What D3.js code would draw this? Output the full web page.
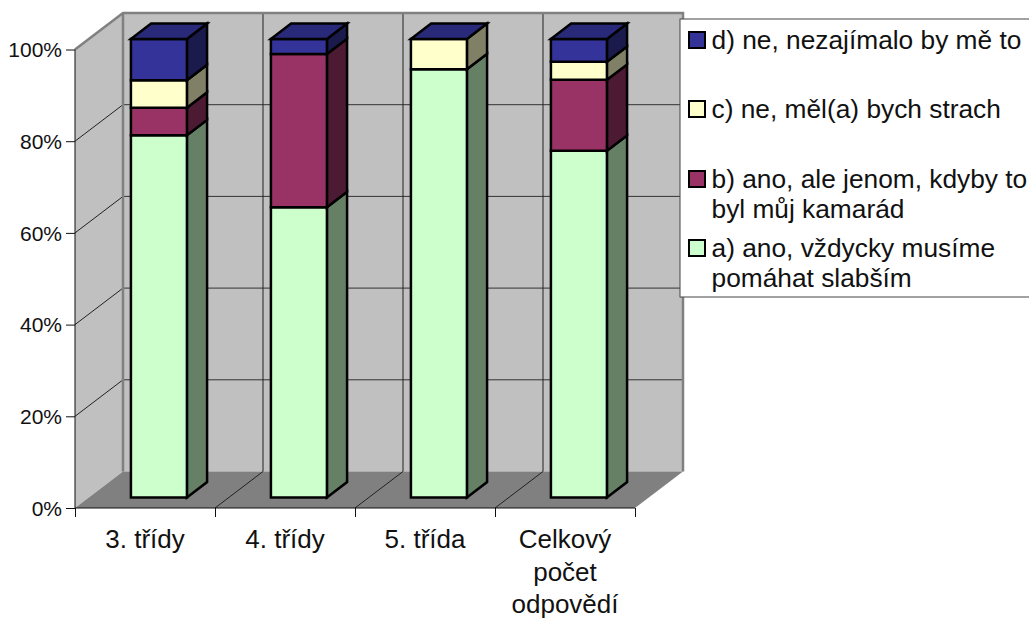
<!DOCTYPE html>
<html><head><meta charset="utf-8">
<script src="https://cdn.jsdelivr.net/npm/d3@7"></script>
<style>html,body{margin:0;padding:0;background:#fff}svg{display:block}text{font-family:"Liberation Sans",Arial,sans-serif;fill:#111}</style>
</head><body><svg id="c" width="1029" height="619"></svg>
<script>
const categories=["3. třídy","4. třídy","5. třída","Celkový|počet|odpovědí"];
const seriesKeys=["a","b","c","d"];
const a=[79,63.3,93.4,75.6];
const b=[6,33.4,0,15.5];
const c=[6,0,6.6,3.9];
const d=[9,3.3,0,5];
const yTicks=[0,20,40,60,80,100];
const frontColors=["#ccffcc","#993366","#ffffcc","#333399"];
const sideColors=["#668066","#4d1a33","#808066","#1a1a4d"];
const topColor="#29297a";
const legendItems=[
 {k:3,lines:["d) ne, nezajímalo by mě to"]},
 {k:2,lines:["c) ne, měl(a) bych strach"]},
 {k:1,lines:["b) ano, ale jenom, kdyby to","byl můj kamarád"]},
 {k:0,lines:["a) ano, vždycky musíme","pomáhat slabším"]}];

const svg=d3.select("#c");
const x=d3.scaleBand().domain(d3.range(categories.length)).range([75,635]).paddingInner(0).paddingOuter(0);
const y=d3.scaleLinear().domain([0,100]).range([508,49.5]);
const DX=48,DY=-36.5;
const poly=(pts,fill,stroke,sw)=>svg.append("polygon").attr("points",pts.map(p=>p.join(",")).join(" ")).attr("fill",fill).attr("stroke",stroke||"none").attr("stroke-width",sw||0).attr("stroke-linejoin","miter");
const line=(x1,y1,x2,y2,s,w)=>svg.append("line").attr("x1",x1).attr("y1",y1).attr("x2",x2).attr("y2",y2).attr("stroke",s).attr("stroke-width",w);

// walls
const xL=x.range()[0],xR=x.range()[1],y0=y(0),y1=y(100);
poly([[xL,y0],[xL+DX,y0+DY],[xL+DX,y1+DY],[xL,y1]],"#c0c0c0");
poly([[xL+DX,y0+DY],[xR+DX,y0+DY],[xR+DX,y1+DY],[xL+DX,y1+DY]],"#c0c0c0");
poly([[xL,y0],[xR,y0],[xR+DX,y0+DY],[xL+DX,y0+DY]],"#808080");
// gridlines
yTicks.slice(1,-1).forEach(t=>{
  line(xL,y(t),xL+DX,y(t)+DY,"#222",1);
  line(xL+DX,y(t)+DY,xR+DX,y(t)+DY,"#333",1);
});
d3.range(1,categories.length).forEach(i=>{
  const px=x(i);
  line(px,y0,px+DX,y0+DY,"#222",1);
  line(px+DX,y0+DY,px+DX,y1+DY,"#222",1);
});
// wall outline
svg.append("polyline").attr("points",[[xL,y1],[xL+DX,y1+DY],[xR+DX,y1+DY],[xR+DX,y0+DY]].map(p=>p.join(",")).join(" ")).attr("fill","none").attr("stroke","#808080").attr("stroke-width",2.5);
line(xL+DX,y1+DY,xL+DX,y0+DY,"#808080",2.5);
// axes
const yAxis=d3.axisLeft(y).tickValues(yTicks).tickFormat(t=>t+"%").tickSize(9).tickPadding(4);
const gy=svg.append("g").attr("transform",`translate(${xL},0)`).call(yAxis);
gy.selectAll("text").style("font-size","21px").attr("dy","0.35em");
gy.selectAll("line").attr("stroke","#111").attr("stroke-width",1);
gy.select("path").attr("d",`M0,${y0}V${y1}`).attr("stroke","#111").attr("stroke-width",1);
const xAxis=d3.axisBottom(d3.scaleLinear().domain([0,4]).range([xL,xR])).tickValues([0,1,2,3,4]).tickFormat("").tickSize(9);
const gx=svg.append("g").attr("transform",`translate(0,${y0})`).call(xAxis);
gx.selectAll("line").attr("stroke","#111").attr("stroke-width",1);
gx.select("path").attr("d",`M${xL},0H${xR}`).attr("stroke","#111").attr("stroke-width",1);
categories.forEach((cat,i)=>{
  const t=svg.append("text").attr("text-anchor","middle").style("font-size","26px");
  cat.split("|").forEach((ln,j)=>t.append("tspan").attr("x",x(i)+x.bandwidth()/2).attr("y",548+j*32.5).text(ln));
});
// bars
const rows=categories.map((_,i)=>({a:a[i],b:b[i],c:c[i],d:d[i]}));
const stacked=d3.stack().keys(seriesKeys)(rows);
const bw=x.bandwidth()/2.5, f1=0.29, f2=0.71;
const ox=DX*f1, oy=DY*f1, sx=DX*(f2-f1), sy=DY*(f2-f1);
categories.forEach((_,i)=>{
  const bx=x(i)+x.bandwidth()/2-bw/2+ox;
  stacked.forEach((s,k)=>{
    const [v0,v1]=s[i];
    if(v1-v0<=0) return;
    const yb=y(v0)+oy, yt=y(v1)+oy;
    poly([[bx+bw,yb],[bx+bw+sx,yb+sy],[bx+bw+sx,yt+sy],[bx+bw,yt]],sideColors[k],"#000",2.5);
    poly([[bx,yb],[bx+bw,yb],[bx+bw,yt],[bx,yt]],frontColors[k],"#000",2.5);
  });
  const yt=y(100)+oy;
  poly([[bx,yt],[bx+bw,yt],[bx+bw+sx,yt+sy],[bx+sx,yt+sy]],topColor,"#000",2.5);
});
// legend
svg.append("rect").attr("x",680).attr("y",19).attr("width",360).attr("height",278).attr("fill","#fff").attr("stroke","#444").attr("stroke-width",1);
const legendBase=[49,118,188,257];
legendItems.forEach((it,idx)=>{
  const ly=legendBase[idx];
  svg.append("rect").attr("x",689).attr("y",ly-17).attr("width",16).attr("height",16).attr("fill",frontColors[it.k]).attr("stroke","#000").attr("stroke-width",2);
  it.lines.forEach((ln,j)=>svg.append("text").attr("x",711.5).attr("y",ly+j*30).style("font-size","26.3px").text(ln));
});
</script></body></html>
